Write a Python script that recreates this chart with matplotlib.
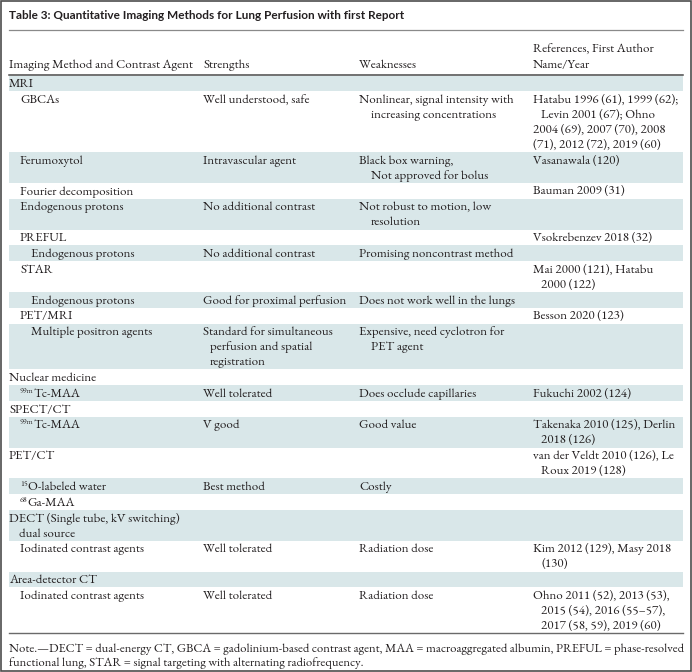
import matplotlib
matplotlib.use('Agg')
import matplotlib.pyplot as plt
from matplotlib import font_manager as fm
from matplotlib.patches import Rectangle

title = 'Table 3: Quantitative Imaging Methods for Lung Perfusion with first Report'
headers = [['Imaging Method and Contrast Agent'], ['Strengths'], ['Weaknesses'],
           ['References, First Author', 'Name/Year']]

methods = [['MRI'], ['GBCAs'], ['Ferumoxytol'], ['Fourier decomposition'],
           ['Endogenous protons'], ['PREFUL'], ['Endogenous protons'], ['STAR'],
           ['Endogenous protons'], ['PET/MRI'], ['Multiple positron agents'],
           ['Nuclear medicine'], ['Tc-MAA'], ['SPECT/CT'], ['Tc-MAA'], ['PET/CT'],
           ['O-labeled water'], ['Ga-MAA'],
           ['DECT (Single tube, kV switching)', 'dual source'],
           ['Iodinated contrast agents'], ['Area-detector CT'],
           ['Iodinated contrast agents']]
isotopes = ['', '', '', '', '', '', '', '', '', '', '', '', '99m', '', '99m', '',
            '15', '68', '', '', '', '']
levels = [0, 1, 1, 1, 1, 1, 2, 1, 2, 1, 2, 0, 1, 0, 1, 0, 1, 1, 0, 1, 0, 1]

strengths = [[], ['Well understood, safe'], ['Intravascular agent'], [],
             ['No additional contrast'], [], ['No additional contrast'], [],
             ['Good for proximal perfusion'], [],
             ['Standard for simultaneous', 'perfusion and spatial', 'registration'],
             [], ['Well tolerated'], [], ['V good'], [], ['Best method'], [], [],
             ['Well tolerated'], [], ['Well tolerated']]

weaknesses = [[], ['Nonlinear, signal intensity with', 'increasing concentrations'],
              ['Black box warning,', 'Not approved for bolus'], [],
              ['Not robust to motion, low', 'resolution'], [],
              ['Promising noncontrast method'], [],
              ['Does not work well in the lungs'], [],
              ['Expensive, need cyclotron for', 'PET agent'], [],
              ['Does occlude capillaries'], [], ['Good value'], [], ['Costly'],
              [], [], ['Radiation dose'], [], ['Radiation dose']]

references = [[], ['Hatabu 1996 (61), 1999 (62);', 'Levin 2001 (67); Ohno',
                   '2004 (69), 2007 (70), 2008', '(71), 2012 (72), 2019 (60)'],
              ['Vasanawala (120)'], ['Bauman 2009 (31)'], [],
              ['Vsokrebenzev 2018 (32)'], [], ['Mai 2000 (121), Hatabu', '2000 (122)'],
              [], ['Besson 2020 (123)'], [], [], ['Fukuchi 2002 (124)'], [],
              ['Takenaka 2010 (125), Derlin', '2018 (126)'],
              ['van der Veldt 2010 (126), Le', 'Roux 2019 (128)'], [], [], [],
              ['Kim 2012 (129), Masy 2018', '(130)'], [],
              ['Ohno 2011 (52), 2013 (53),', '2015 (54), 2016 (55\u201357),',
               '2017 (58, 59), 2019 (60)']]

note = ['Note.\u2014DECT = dual-energy CT, GBCA = gadolinium-based contrast agent, '
        'MAA = macroaggregated albumin, PREFUL = phase-resolved',
        'functional lung, STAR = signal targeting with alternating radiofrequency.']


def weight(f):
    w = f.weight
    return w if isinstance(w, int) else fm.weight_dict.get(w, 400)

def pick(cands, bold=False):
    for c in cands:
        for f in fm.fontManager.ttflist:
            if f.name == c and (not bold or weight(f) >= 700):
                return c
    return cands[-1]

serif = pick(['EB Garamond', 'Cormorant Garamond', 'Liberation Serif'])
sans = pick(['Jost', 'League Spartan', 'Kumbh Sans', 'Lato'], bold=True)

# layout in pixels
W, H = 692, 672
ink = '#231f20'
band = '#d9e7e9'
left, right = 9, 683
col_x = [9, 203, 359, 533]
cont = [10, 7, 12, 8]
level_x = [9, 20, 31]

fig = plt.figure(figsize=(W / 100, H / 100), dpi=100)
ax = fig.add_axes([0, 0, 1, 1])
ax.set_xlim(0, W)
ax.set_ylim(H, 0)
ax.axis('off')
r = fig.canvas.get_renderer()

def fit(t, width):
    w = t.get_window_extent(r).width
    t.set_fontsize(t.get_fontsize() * width / w)

# title
tt = ax.text(left, 19, title, fontsize=8, fontweight='bold', family=sans,
             color=ink, va='baseline')
fit(tt, 396)
ax.plot([left, right], [30, 30], color='#8a8a8a', lw=0.9)

# body size matched to header width
probe = ax.text(0, 0, headers[0][0], fontsize=9, family=serif)
fs = 9 * 184 / probe.get_window_extent(r).width
probe.remove()

for j, lines in enumerate(headers):
    base = 68 - 16 * (len(lines) - 1)
    for i, s in enumerate(lines):
        ax.text(col_x[j], base + 16 * i, s, fontsize=fs, family=serif,
                color=ink, va='baseline')
ax.plot([left, right], [75, 75], color='#4a4a4a', lw=1.1)

y = 75.5
h1, lh = 15.8, 15.0
for k in range(len(methods)):
    cells = [methods[k], strengths[k], weaknesses[k], references[k]]
    n = max(len(c) for c in cells)
    h = h1 + lh * (n - 1)
    if k % 2 == 0:
        ax.add_patch(Rectangle((left, y), right - left, h, color=band, lw=0))
    base = y + 11.6
    for j, lines in enumerate(cells):
        x0 = level_x[levels[k]] if j == 0 else col_x[j]
        for i, s in enumerate(lines):
            x = x0 + (cont[j] if i > 0 else 0)
            if j == 3 and k == 1 and i > 1:
                x = x0
            if j == 0 and i == 0 and isotopes[k]:
                sp = ax.text(x, base - 4.2, isotopes[k], fontsize=fs * 0.62,
                             family=serif, color=ink, va='baseline')
                x += sp.get_window_extent(r).width + 0.1
            ax.text(x, base + lh * i, s, fontsize=fs, family=serif,
                    color=ink, va='baseline')
    y += h

ax.plot([left, right], [y, y], color='#6a6a6a', lw=1.0)

n1 = ax.text(left, y + 18.5, note[0], fontsize=fs, family=serif, color=ink,
             va='baseline')
fit(n1, right - left - 2)
ax.text(left, y + 33, note[1], fontsize=n1.get_fontsize(), family=serif,
        color=ink, va='baseline')

ax.add_patch(Rectangle((0.8, 0.8), W - 1.6, H - 1.6, fill=False,
                       edgecolor='#4d4d4d', lw=1.2))

fig.savefig('out.png', dpi=100)
